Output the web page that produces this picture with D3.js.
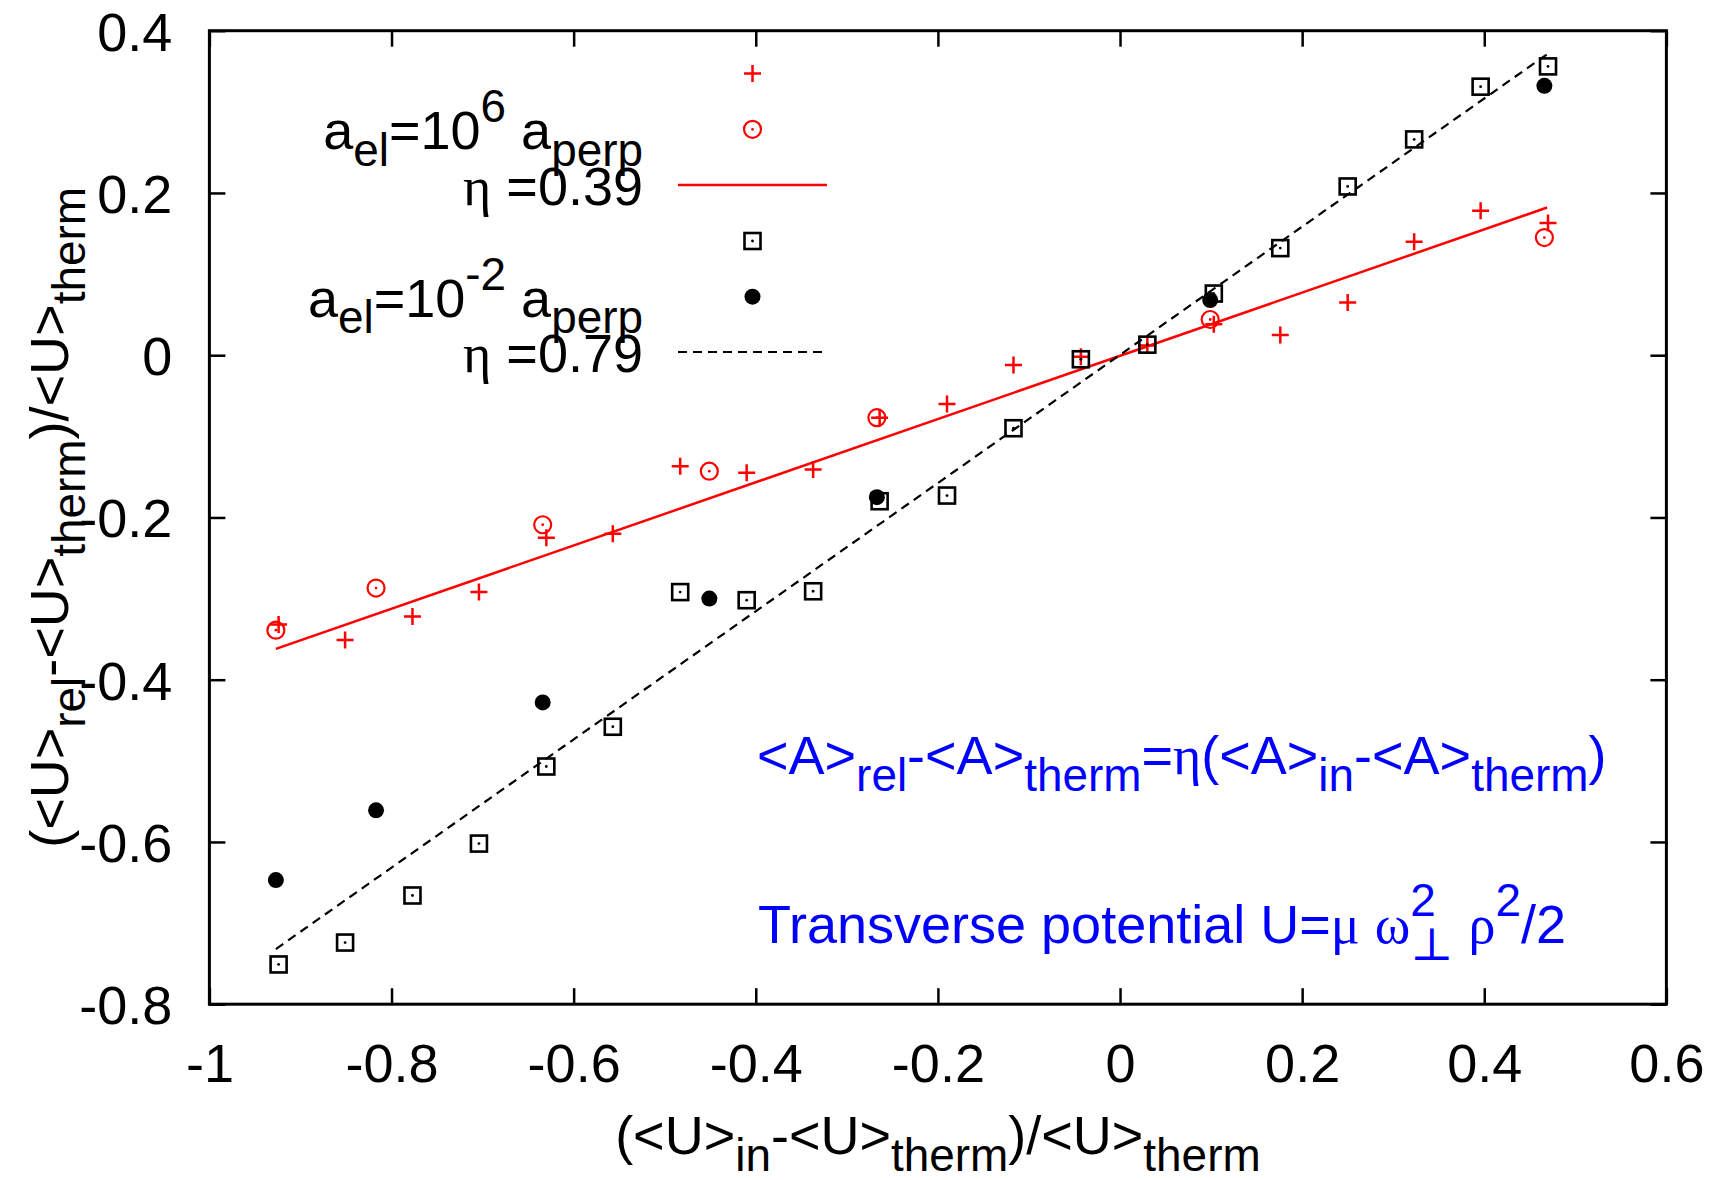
<!DOCTYPE html>
<html>
<head>
<meta charset="utf-8">
<script src="https://cdn.jsdelivr.net/npm/d3@7"></script>
<style>
body { margin: 0; background: #fff; }
svg text { font-family: "Liberation Sans", Arial, Helvetica, sans-serif; white-space: pre; }
</style>
</head>
<body>
<script>
//data

//x values shared by the 20-point series (plus and square)
var xFine = [-0.924, -0.851, -0.777, -0.704, -0.630, -0.557, -0.483, -0.410, -0.337, -0.264,
             -0.190, -0.117, -0.043, 0.030, 0.103, 0.176, 0.250, 0.323, 0.396, 0.470];
//red plus, a_el = 10^6 a_perp
var yPlusRed = [-0.332, -0.351, -0.322, -0.292, -0.225, -0.220, -0.137, -0.145, -0.141, -0.077,
                -0.060, -0.012, -0.002, 0.012, 0.038, 0.025, 0.065, 0.140, 0.178, 0.163];
//black open square, a_el = 10^-2 a_perp
var ySquareBlack = [-0.751, -0.724, -0.666, -0.602, -0.507, -0.458, -0.292, -0.302, -0.291, -0.180,
                    -0.173, -0.090, -0.005, 0.013, 0.076, 0.132, 0.208, 0.266, 0.331, 0.356];

//x values of the 7-point series (circles)
var xCoarse = [-0.927, -0.817, -0.634, -0.451, -0.267, 0.099, 0.466];
var yCircleRed = [-0.339, -0.287, -0.209, -0.143, -0.077, 0.044, 0.145];
var yDotBlack = [-0.647, -0.561, -0.428, -0.300, -0.175, 0.068, 0.332];

//fitted lines, end points
var fitRed = [[-0.927, -0.362], [0.469, 0.182]];   // eta = 0.39
var fitBlack = [[-0.927, -0.732], [0.469, 0.371]]; // eta = 0.79

//ticks
var xTicks = [-1, -0.8, -0.6, -0.4, -0.2, 0, 0.2, 0.4, 0.6];
var xTickLabels = ["-1", "-0.8", "-0.6", "-0.4", "-0.2", "0", "0.2", "0.4", "0.6"];
var yTicks = [-0.8, -0.6, -0.4, -0.2, 0, 0.2, 0.4];
var yTickLabels = ["-0.8", "-0.6", "-0.4", "-0.2", "0", "0.2", "0.4"];

window.onload = function(){

    var W = 1719, H = 1180;
    var m = {left: 209.4, right: 1666.4, top: 30.7, bottom: 1004.2};
    var fs = 54; //main font size
    var greek = '"Liberation Serif", "DejaVu Serif", serif';

    var svg = d3.select("body")
        .append("svg")
        .attr("width", W)
        .attr("height", H);

    //scales
    var x = d3.scaleLinear().domain([-1, 0.6]).range([m.left, m.right]);
    var y = d3.scaleLinear().domain([-0.8, 0.4]).range([m.bottom, m.top]);

    //rich text helper: parts with sub / sup like gnuplot enhanced text
    function rich(sel, parts, size){
        var cur = 0, prev = null;
        parts.forEach(function(p){
            var off = p.s === "sub" ? 0.31 * size : (p.s === "sup" ? -0.5 * size : 0);
            var t = sel.append("tspan")
                .attr("dy", off - cur)
                .style("font-size", (p.s ? 0.85 * size : size) + "px")
                .text(p.t);
            if (p.g) t.style("font-family", greek);
            if (p.over && prev) t.attr("dx", -prev.node().getComputedTextLength()); //overprint
            cur = off;
            prev = t;
        });
        return sel;
    }

    //axes, inner ticks on all four sides
    var tick = 16;
    var bottom = svg.append("g")
        .attr("class", "axis")
        .attr("transform", "translate(0," + m.bottom + ")")
        .call(d3.axisBottom(x).tickValues(xTicks)
            .tickFormat(function(d, i){ return xTickLabels[i]; })
            .tickSizeInner(-tick).tickSizeOuter(0));
    bottom.selectAll("text")
        .attr("y", 78).attr("dy", 0)
        .style("font-size", fs + "px").style("fill", "#000");

    var left = svg.append("g")
        .attr("class", "axis")
        .attr("transform", "translate(" + m.left + ",0)")
        .call(d3.axisLeft(y).tickValues(yTicks)
            .tickFormat(function(d, i){ return yTickLabels[i]; })
            .tickSizeInner(-tick).tickSizeOuter(0));
    left.selectAll("text")
        .attr("x", -37).attr("dy", "0.36em")
        .style("font-size", fs + "px").style("fill", "#000");

    svg.append("g")
        .attr("transform", "translate(0," + m.top + ")")
        .call(d3.axisTop(x).tickValues(xTicks).tickFormat("").tickSizeInner(-tick).tickSizeOuter(0));
    svg.append("g")
        .attr("transform", "translate(" + m.right + ",0)")
        .call(d3.axisRight(y).tickValues(yTicks).tickFormat("").tickSizeInner(-tick).tickSizeOuter(0));

    svg.selectAll(".tick line").style("stroke", "#000").style("stroke-width", 2.5);
    svg.selectAll(".domain").remove();

    //frame
    svg.append("rect")
        .attr("x", m.left).attr("y", m.top)
        .attr("width", m.right - m.left).attr("height", m.bottom - m.top)
        .style("fill", "none").style("stroke", "#000").style("stroke-width", 3);

    //axis titles
    rich(svg.append("text")
        .attr("x", (m.left + m.right) / 2).attr("y", 1154)
        .attr("text-anchor", "middle"),
        [{t: "(<U>"}, {t: "in", s: "sub"}, {t: "-<U>"}, {t: "therm", s: "sub"}, {t: ")/<U>"}, {t: "therm", s: "sub"}], fs);

    rich(svg.append("text")
        .attr("transform", "translate(68," + ((m.top + m.bottom) / 2) + ") rotate(-90)")
        .attr("text-anchor", "middle"),
        [{t: "(<U>"}, {t: "rel", s: "sub"}, {t: "-<U>"}, {t: "therm", s: "sub"}, {t: ")/<U>"}, {t: "therm", s: "sub"}], fs);

    //marker drawers
    function plus(g, c){
        g.append("path").attr("d", "M-8.5,0H8.5M0,-8.5V8.5")
            .style("stroke", c).style("stroke-width", 2.5).style("fill", "none");
    }
    function circleDot(g, c){
        g.append("circle").attr("r", 8.5)
            .style("stroke", c).style("stroke-width", 2.2).style("fill", "none");
        g.append("circle").attr("r", 1.4).style("fill", c);
    }
    function squareDot(g, c){
        g.append("rect").attr("x", -8).attr("y", -8).attr("width", 16).attr("height", 16)
            .style("stroke", c).style("stroke-width", 2.6).style("fill", "none");
        g.append("circle").attr("r", 1.4).style("fill", c);
    }
    function dot(g, c){
        g.append("circle").attr("r", 8).style("fill", c);
    }

    function points(xs, ys, draw, c){
        svg.append("g").selectAll("g")
            .data(xs.map(function(d, i){ return [d, ys[i]]; }))
            .enter()
            .append("g")
            .attr("transform", function(d){ return "translate(" + x(d[0]) + "," + y(d[1]) + ")"; })
            .each(function(){ draw(d3.select(this), c); });
    }

    var line = d3.line()
        .x(function(d){ return x(d[0]); })
        .y(function(d){ return y(d[1]); });

    //plot order as in gnuplot
    points(xFine, yPlusRed, plus, "#ff0000");
    points(xCoarse, yCircleRed, circleDot, "#ff0000");
    svg.append("path").datum(fitRed).attr("d", line)
        .style("fill", "none").style("stroke", "#ff0000").style("stroke-width", 2.5);
    points(xFine, ySquareBlack, squareDot, "#000");
    points(xCoarse, yDotBlack, dot, "#000");
    svg.append("path").datum(fitBlack).attr("d", line)
        .style("fill", "none").style("stroke", "#000").style("stroke-width", 2.2)
        .style("stroke-dasharray", "9,6");

    //legend (key), labels right aligned
    var keyX = 752.5, keyL = 678, keyR = 827, labR = 643;
    var rows = [73.5, 129.3, 185, 241, 296.7, 352];

    var kg = svg.append("g").attr("class", "key");
    plus(kg.append("g").attr("transform", "translate(" + keyX + "," + rows[0] + ")"), "#ff0000");
    circleDot(kg.append("g").attr("transform", "translate(" + keyX + "," + rows[1] + ")"), "#ff0000");
    kg.append("line").attr("x1", keyL).attr("x2", keyR).attr("y1", rows[2]).attr("y2", rows[2])
        .style("stroke", "#ff0000").style("stroke-width", 2.5);
    squareDot(kg.append("g").attr("transform", "translate(" + keyX + "," + rows[3] + ")"), "#000");
    dot(kg.append("g").attr("transform", "translate(" + keyX + "," + rows[4] + ")"), "#000");
    kg.append("line").attr("x1", keyL).attr("x2", keyR).attr("y1", rows[5]).attr("y2", rows[5])
        .style("stroke", "#000").style("stroke-width", 2.2).style("stroke-dasharray", "9,6");

    function keyLabel(row, parts){
        rich(kg.append("text")
            .attr("x", labR).attr("y", row + 20)
            .attr("text-anchor", "end"), parts, fs);
    }
    keyLabel(rows[1], [{t: "a"}, {t: "el", s: "sub"}, {t: "=10"}, {t: "6", s: "sup"}, {t: " a"}, {t: "perp", s: "sub"}]);
    keyLabel(rows[2], [{t: "η", g: 1}, {t: " =0.39"}]);
    keyLabel(rows[4], [{t: "a"}, {t: "el", s: "sub"}, {t: "=10"}, {t: "-2", s: "sup"}, {t: " a"}, {t: "perp", s: "sub"}]);
    keyLabel(rows[5], [{t: "η", g: 1}, {t: " =0.79"}]);

    //blue annotations
    rich(svg.append("text")
        .attr("x", 757).attr("y", 774)
        .style("fill", "#0000ff"),
        [{t: "<A>"}, {t: "rel", s: "sub"}, {t: "-<A>"}, {t: "therm", s: "sub"}, {t: "="}, {t: "η", g: 1},
         {t: "(<A>"}, {t: "in", s: "sub"}, {t: "-<A>"}, {t: "therm", s: "sub"}, {t: ")"}], fs);

    //the 2 and the perpendicular sign share one x, the wider one sets the advance
    rich(svg.append("text")
        .attr("x", 758).attr("y", 943)
        .style("fill", "#0000ff"),
        [{t: "Transverse potential U="}, {t: "μ", g: 1}, {t: " "}, {t: "ω", g: 1},
         {t: "2", s: "sup"}, {t: "⊥", s: "sub", g: 1, over: 1}, {t: " "}, {t: "ρ", g: 1},
         {t: "2", s: "sup"}, {t: "/2"}], fs);
};
</script>
</body>
</html>
